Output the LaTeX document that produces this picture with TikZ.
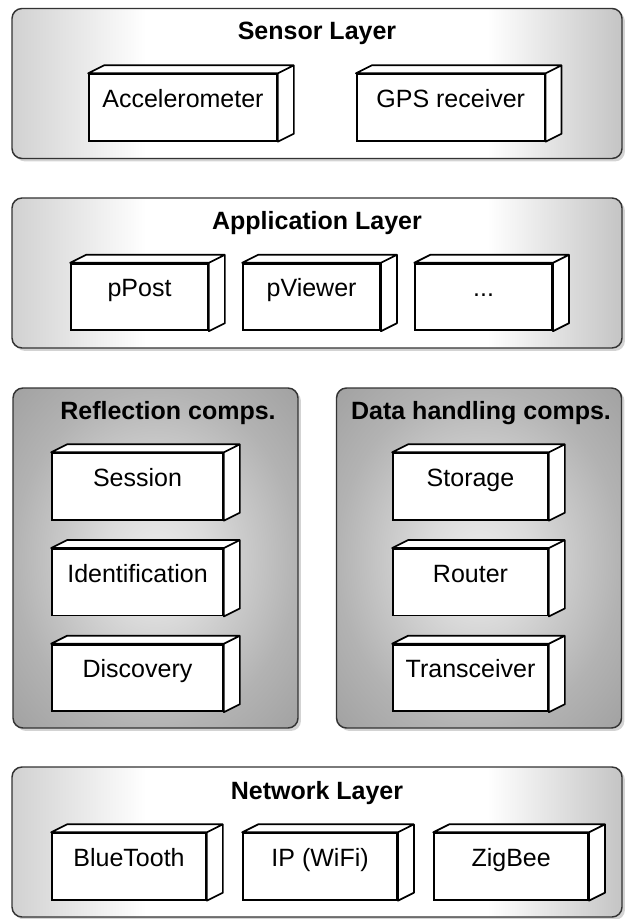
\documentclass[tikz,border=0pt]{standalone}
\usepackage{fontspec}
\setmainfont{Liberation Sans}
\usetikzlibrary{calc,positioning,shadows}

\pgfdeclarehorizontalshading{layershade}{100bp}{color(0bp)=(black!18); color(25bp)=(black!18); color(36bp)=(white); color(64bp)=(white); color(75bp)=(black!23); color(100bp)=(black!23)}
\pgfdeclareradialshading{compshade}{\pgfpoint{0bp}{0bp}}{color(0bp)=(black!8); color(9bp)=(black!14); color(25bp)=(black!30); color(36bp)=(black!37); color(50bp)=(black!37)}

\tikzset{
  layer/.style={draw=black!80, line width=1.1pt, rounded corners=7.5pt, shade, shading=layershade,
    drop shadow={shadow xshift=2.2pt, shadow yshift=-2.2pt, opacity=.35},
    minimum width=457.5pt, minimum height=112.5pt, inner sep=0pt},
  comps/.style={layer, shading=compshade, minimum width=213.75pt, minimum height=255pt},
  ttl/.style={font=\bfseries\fontsize{18.75}{22}\selectfont},
  part/.style={draw, fill=white, line width=1.3pt, inner xsep=0pt, inner ysep=0pt,
    text height=25pt, text depth=25pt, font=\fontsize{18.75}{22}\selectfont},
}

\begin{document}
\begin{tikzpicture}[x=0.75pt, y=-0.75pt]
\useasboundingbox (0,0) rectangle (628,919);

% layers
\node[layer] (sensor) at (317,83.5) {};
\node[layer] (app) at (317,273) {};
\node[comps] (refl) at (155.5,558) {};
\node[comps] (data) at (479,558) {};
\node[layer] (net) at (317,842) {};

\node[ttl] (sensorT) at (317,33) {Sensor Layer};
\node[ttl] (appT) at (317,223) {Application Layer};
\node[ttl] (reflT) at (168,413) {Reflection comps.};
\node[ttl] (dataT) at (481,413) {Data handling comps.};
\node[ttl] (netT) at (317,793) {Network Layer};

% sensor layer
\node[part, minimum width=141pt] (acc) at (183,107.5) {Accelerometer};
\node[part, minimum width=141pt] (gps) [right=58.5pt of acc] {GPS receiver};

% application layer
\node[part, minimum width=102.75pt] (pPost) at (139.5,297) {pPost};
\node[part, minimum width=102.75pt] (pViewer) [right=25pt of pPost] {pViewer};
\node[part, minimum width=102.75pt] (more) [right=25pt of pViewer] {...};

% reflection comps.
\node[part, minimum width=128.25pt] (sess) at (137.5,486.5) {Session};
\node[part, minimum width=128.25pt] (ident) [below=20.5pt of sess] {Identification};
\node[part, minimum width=128.25pt] (disc) [below=20.5pt of ident] {Discovery};

% data handling comps.
\node[part, minimum width=116.25pt] (store) at (470.5,486.5) {Storage};
\node[part, minimum width=116.25pt] (router) [below=20.5pt of store] {Router};
\node[part, minimum width=116.25pt] (trans) [below=20.5pt of router] {Transceiver};

% network layer
\node[part, minimum width=115.5pt] (blue) at (129,866.5) {BlueTooth};
\node[part, minimum width=115.5pt] (ip) [right=26.5pt of blue] {IP (WiFi)};
\node[part, minimum width=115.5pt] (zig) [right=26.5pt of ip] {ZigBee};

% 3d faces
\foreach \n in {acc,gps,pPost,pViewer,more,sess,ident,disc,store,router,trans,blue,ip,zig}
  \draw[line width=1.3pt, fill=white, line join=round] (\n.north west) -- ++(12pt,6pt)
    -- ($(\n.north east)+(12pt,6pt)$) -- ($(\n.south east)+(12pt,6pt)$) -- (\n.south east)
    -- (\n.north east) -- cycle (\n.north east) -- ++(12pt,6pt);
\end{tikzpicture}
\end{document}
